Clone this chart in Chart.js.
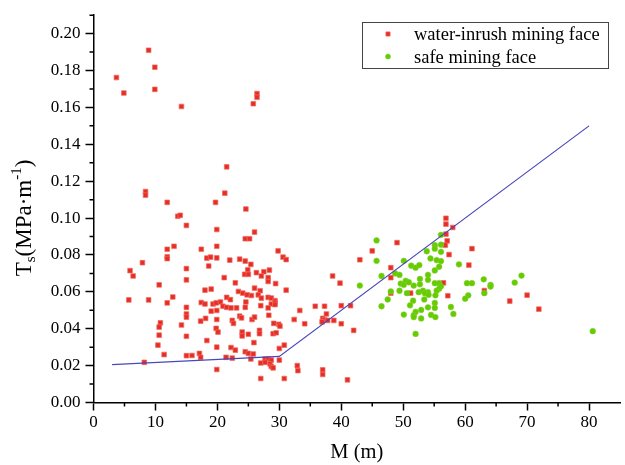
<!DOCTYPE html>
<html>
<head>
<meta charset="utf-8">
<script src="https://cdn.jsdelivr.net/npm/chart.js@4.4.1/dist/chart.umd.min.js"></script>
<style>
  html, body { margin: 0; padding: 0; background: #fff; }
  #wrap { width: 625px; height: 465px; }
</style>
</head>
<body>
<div id="wrap"><canvas id="chart" width="625" height="465"></canvas></div>
<script>
// water-inrush faces: M (m) and Ts (MPa/m)
const inrushM = [
  8.9, 9.9, 3.7, 4.9, 9.9, 14.2, 26.4, 26.4, 25.8, 21.5,
  8.4, 8.4, 21.2, 11.9, 19.7, 24.6, 13.6, 14.0, 15.0, 19.9,
  26.0, 24.5, 25.2, 13.0, 11.9, 19.9, 17.4, 29.8, 11.9, 11.9,
  18.3, 18.9, 19.9, 22.0, 23.6, 24.5, 25.4, 30.6, 31.1, 7.9,
  15.0, 18.6, 24.9, 5.9, 6.4, 26.3, 27.5, 28.4, 24.4, 25.0,
  27.1, 21.1, 28.2, 28.2, 15.0, 22.9, 29.4, 10.6, 26.0, 26.9,
  18.0, 19.0, 23.4, 31.1, 24.1, 24.8, 25.5, 26.6, 27.1, 28.2,
  28.7, 29.3, 12.8, 5.7, 8.9, 11.9, 17.4, 18.0, 19.3, 19.8,
  20.5, 21.5, 22.1, 28.7, 29.3, 24.6, 20.9, 21.5, 22.2, 23.1,
  24.5, 27.0, 28.2, 29.3, 15.0, 15.0, 15.0, 19.0, 19.9, 17.3,
  18.1, 19.9, 22.4, 22.6, 23.6, 23.9, 25.6, 26.0, 28.3, 14.2,
  10.8, 10.6, 29.1, 29.9, 30.1, 19.8, 20.1, 24.0, 24.0, 25.0,
  26.8, 26.8, 29.0, 29.5, 15.0, 10.6, 18.3, 25.9, 10.4, 19.9,
  22.2, 22.9, 30.0, 30.8, 11.4, 15.0, 15.9, 17.1, 17.3, 21.4,
  22.4, 24.5, 25.0, 25.4, 25.8, 27.7, 28.2, 28.7, 30.0, 27.0,
  27.7, 28.5, 28.7, 29.0, 8.2, 19.9, 27.0, 30.8, 38.6, 39.8,
  35.8, 37.3, 33.3, 32.4, 34.1, 37.0, 37.6, 37.3, 36.9, 37.8,
  38.8, 40.0, 41.5, 40.0, 42.0, 32.9, 33.0, 37.0, 37.0, 41.0,
  56.9, 56.9, 58.0, 56.9, 57.1, 56.8, 57.4, 49.0, 45.0, 61.1,
  43.0, 60.6, 48.0, 48.0, 56.5, 48.0, 51.2, 57.2, 63.1, 67.2,
  70.0, 71.9
];
const inrushTs = [
  0.191, 0.1818, 0.1762, 0.1678, 0.1698, 0.1605, 0.1675, 0.1655, 0.162, 0.1278,
  0.1144, 0.1124, 0.1135, 0.1085, 0.1085, 0.1049, 0.101, 0.1015, 0.096, 0.0938,
  0.0924, 0.0888, 0.0888, 0.0847, 0.0831, 0.0847, 0.0831, 0.0822, 0.079, 0.078,
  0.0783, 0.0788, 0.0784, 0.0772, 0.0777, 0.0767, 0.0749, 0.0788, 0.0775, 0.0758,
  0.0726, 0.074, 0.072, 0.0715, 0.0686, 0.0704, 0.0709, 0.0718, 0.0695, 0.0695,
  0.0686, 0.0677, 0.0677, 0.0656, 0.0665, 0.0649, 0.0645, 0.0638, 0.062, 0.0606,
  0.0609, 0.0615, 0.0602, 0.0609, 0.0593, 0.0584, 0.058, 0.0584, 0.0566, 0.057,
  0.0566, 0.0552, 0.0572, 0.0556, 0.0556, 0.054, 0.0542, 0.0534, 0.0534, 0.054,
  0.0545, 0.057, 0.0558, 0.0534, 0.0542, 0.0545, 0.0522, 0.0516, 0.0513, 0.0513,
  0.0516, 0.0525, 0.0513, 0.0531, 0.0516, 0.048, 0.0463, 0.0495, 0.0499, 0.0441,
  0.0456, 0.045, 0.0445, 0.0429, 0.0468, 0.0459, 0.045, 0.0463, 0.0473, 0.042,
  0.0432, 0.0409, 0.0429, 0.0424, 0.0414, 0.0402, 0.0382, 0.0382, 0.0361, 0.037,
  0.0391, 0.0373, 0.0373, 0.0378, 0.0359, 0.0365, 0.0336, 0.0325, 0.0311, 0.03,
  0.0298, 0.0284, 0.0293, 0.0311, 0.026, 0.0254, 0.0255, 0.0266, 0.0245, 0.0245,
  0.0241, 0.0275, 0.0266, 0.0236, 0.0263, 0.0236, 0.0236, 0.023, 0.023, 0.0214,
  0.0218, 0.0209, 0.0196, 0.0188, 0.0218, 0.0179, 0.013, 0.013, 0.0686, 0.0647,
  0.0522, 0.0522, 0.0499, 0.045, 0.0427, 0.0456, 0.048, 0.0448, 0.0437, 0.0445,
  0.0445, 0.0525, 0.0525, 0.0427, 0.0391, 0.02, 0.0173, 0.0177, 0.0152, 0.0123,
  0.0999, 0.0967, 0.0949, 0.0913, 0.0876, 0.0853, 0.0802, 0.0867, 0.0822, 0.0834,
  0.0774, 0.0745, 0.0731, 0.0677, 0.0649, 0.0593, 0.0593, 0.0579, 0.0607, 0.055,
  0.0582, 0.0506
];

// safe faces
const safeM = [
  45.7, 45.7, 56.1, 55.1, 55.1, 56.1, 53.8, 56.1, 54.4, 55.4,
  56.1, 50.1, 59.0, 51.3, 52.0, 52.6, 55.8, 55.1, 48.7, 49.4,
  46.5, 54.0, 54.0, 52.7, 50.4, 50.9, 51.7, 49.6, 50.1, 52.7,
  55.1, 55.8, 56.1, 55.8, 55.4, 60.3, 61.1, 63.0, 64.1, 64.1,
  68.0, 69.1, 43.0, 48.0, 49.4, 50.6, 52.5, 53.2, 54.0, 53.5,
  54.1, 55.2, 63.1, 60.5, 60.0, 47.5, 51.6, 53.4, 55.1, 55.1,
  51.1, 46.5, 54.0, 57.7, 52.9, 52.0, 51.7, 51.7, 50.1, 54.5,
  55.2, 58.1, 52.9, 52.0, 80.6
];
const safeTs = [
  0.0879, 0.0768, 0.0909, 0.0853, 0.0834, 0.0856, 0.082, 0.0817, 0.0781, 0.0772,
  0.0767, 0.0768, 0.0749, 0.0742, 0.0731, 0.0745, 0.0736, 0.0716, 0.07, 0.0692,
  0.0686, 0.0692, 0.0665, 0.067, 0.066, 0.0652, 0.0634, 0.0645, 0.0638, 0.0641,
  0.0647, 0.0647, 0.063, 0.0617, 0.0606, 0.0647, 0.0647, 0.0668, 0.0638, 0.0629,
  0.065, 0.0688, 0.0634, 0.0602, 0.0606, 0.0593, 0.0598, 0.0606, 0.0598, 0.0593,
  0.0584, 0.0581, 0.0593, 0.0581, 0.0563, 0.0559, 0.0552, 0.0559, 0.054, 0.0513,
  0.0527, 0.0522, 0.0516, 0.0518, 0.0502, 0.0491, 0.0473, 0.0463, 0.0477, 0.0475,
  0.0463, 0.048, 0.0456, 0.0372, 0.0387
];

// discriminant boundary (piecewise line)
const boundaryM = [3, 30, 80];
const boundaryTs = [0.0205, 0.025, 0.15];

const xTicks = [0, 10, 20, 30, 40, 50, 60, 70, 80];
const xMinor = [5, 15, 25, 35, 45, 55, 65, 75];
const yTicks = [0, 0.02, 0.04, 0.06, 0.08, 0.10, 0.12, 0.14, 0.16, 0.18, 0.20];
const yMinor = [0.01, 0.03, 0.05, 0.07, 0.09, 0.11, 0.13, 0.15, 0.17, 0.19, 0.21];

const SERIF = '"Liberation Serif", "Times New Roman", serif';
const RED = '#e62e25';
const GREEN = '#66cc00';
const BLUE = '#4848bc';

const pairs = (xs, ys) => xs.map((x, i) => ({ x: x, y: ys[i] }));

const inrushStyle = { pointStyle: 'rect', radius: 3.3, borderWidth: 1, rotation: 0 };
const safeStyle = { pointStyle: 'circle', radius: 2.9, borderWidth: 0.6, rotation: 0 };
const legendRect = { pointStyle: 'rect', radius: 3, borderWidth: 1, rotation: 0 };
const legendDot = { pointStyle: 'circle', radius: 2.6, borderWidth: 0.6, rotation: 0 };

// minor ticks, rotated y title with sub/superscripts, boxed legend
const decorations = {
  id: 'decorations',
  afterDraw(chart) {
    const ctx = chart.ctx;
    const xs = chart.scales.x, ys = chart.scales.y;
    const area = chart.chartArea;

    ctx.save();
    ctx.strokeStyle = '#000';
    ctx.lineWidth = 1.5;
    ctx.beginPath();
    xMinor.forEach(v => {
      const px = xs.getPixelForValue(v);
      ctx.moveTo(px, area.bottom);
      ctx.lineTo(px, area.bottom + 4);
    });
    yMinor.forEach(v => {
      const py = ys.getPixelForValue(v);
      ctx.moveTo(area.left, py);
      ctx.lineTo(area.left - 4, py);
    });
    ctx.stroke();
    ctx.restore();

    // y axis title: Ts(MPa·m-1)
    const big = '23px ' + SERIF;
    const small = '15px ' + SERIF;
    const parts = [
      { t: 'T', f: big, dy: 0 },
      { t: 's', f: small, dy: 4 },
      { t: '(MPa\u00b7m', f: big, dy: 0 },
      { t: '-1', f: small, dy: -10 },
      { t: ')', f: big, dy: 0 }
    ];
    ctx.save();
    ctx.translate(0, 218);
    ctx.rotate(-Math.PI / 2);
    ctx.fillStyle = '#000';
    ctx.textBaseline = 'alphabetic';
    let total = 0;
    parts.forEach(p => { ctx.font = p.f; p.w = ctx.measureText(p.t).width; total += p.w; });
    let cx = -total / 2;
    parts.forEach(p => {
      ctx.font = p.f;
      ctx.fillText(p.t, cx, 31 + p.dy);
      cx += p.w;
    });
    ctx.restore();

    // legend
    ctx.save();
    ctx.strokeStyle = '#444';
    ctx.lineWidth = 1;
    ctx.strokeRect(362.5, 22.5, 246, 46);
    ctx.fillStyle = RED;
    ctx.strokeStyle = 'rgba(240,110,100,0.7)';
    ctx.lineWidth = legendRect.borderWidth;
    Chart.helpers.drawPoint(ctx, legendRect, 388, 34);
    ctx.fillStyle = GREEN;
    ctx.strokeStyle = 'rgba(130,210,60,0.8)';
    ctx.lineWidth = legendDot.borderWidth;
    Chart.helpers.drawPoint(ctx, legendDot, 388, 56.5);
    ctx.fillStyle = '#000';
    ctx.font = '18.5px ' + SERIF;
    ctx.textBaseline = 'alphabetic';
    ctx.fillText('water-inrush mining face', 414, 39.5);
    ctx.fillText('safe mining face', 414, 62.5);
    ctx.restore();
  }
};

new Chart(document.getElementById('chart'), {
  type: 'scatter',
  data: {
    datasets: [
      {
        label: 'boundary',
        data: pairs(boundaryM, boundaryTs),
        showLine: true,
        borderColor: BLUE,
        borderWidth: 1.2,
        pointRadius: 0,
        fill: false
      },
      {
        label: 'safe mining face',
        data: pairs(safeM, safeTs),
        pointStyle: safeStyle.pointStyle,
        pointRadius: safeStyle.radius,
        backgroundColor: GREEN,
        borderColor: 'rgba(130,210,60,0.8)',
        borderWidth: safeStyle.borderWidth
      },
      {
        label: 'water-inrush mining face',
        data: pairs(inrushM, inrushTs),
        pointStyle: inrushStyle.pointStyle,
        pointRadius: inrushStyle.radius,
        backgroundColor: RED,
        borderColor: 'rgba(240,110,100,0.7)',
        borderWidth: inrushStyle.borderWidth
      }
    ]
  },
  options: {
    responsive: false,
    animation: false,
    devicePixelRatio: 1,
    layout: { padding: { top: 11, right: 0, bottom: 0, left: 0 } },
    plugins: { legend: { display: false }, tooltip: { enabled: false } },
    scales: {
      x: {
        type: 'linear',
        min: 0,
        max: 85,
        afterFit: s => { s.height = 62.5; },
        afterBuildTicks: s => { s.ticks = xTicks.map(v => ({ value: v })); },
        grid: { drawOnChartArea: false, drawTicks: true, tickLength: 8, tickColor: '#000', tickWidth: 1.5 },
        border: { display: true, color: '#000', width: 1.5 },
        ticks: {
          color: '#000',
          font: { family: SERIF, size: 17 },
          padding: 2,
          maxRotation: 0,
          autoSkip: false,
          callback: v => String(v)
        },
        title: {
          display: true,
          text: 'M (m)',
          color: '#000',
          font: { family: SERIF, size: 20.5 },
          padding: { top: 0, bottom: 0 }
        }
      },
      y: {
        type: 'linear',
        min: 0,
        max: 0.21,
        afterFit: s => { s.width = 93.5; },
        afterBuildTicks: s => { s.ticks = yTicks.map(v => ({ value: v })); },
        grid: { drawOnChartArea: false, drawTicks: true, tickLength: 8, tickColor: '#000', tickWidth: 1.5 },
        border: { display: true, color: '#000', width: 1.5 },
        ticks: {
          color: '#000',
          font: { family: SERIF, size: 17 },
          padding: 5,
          autoSkip: false,
          callback: v => v.toFixed(2)
        },
        title: { display: false }
      }
    }
  },
  plugins: [decorations]
});
</script>
</body>
</html>
